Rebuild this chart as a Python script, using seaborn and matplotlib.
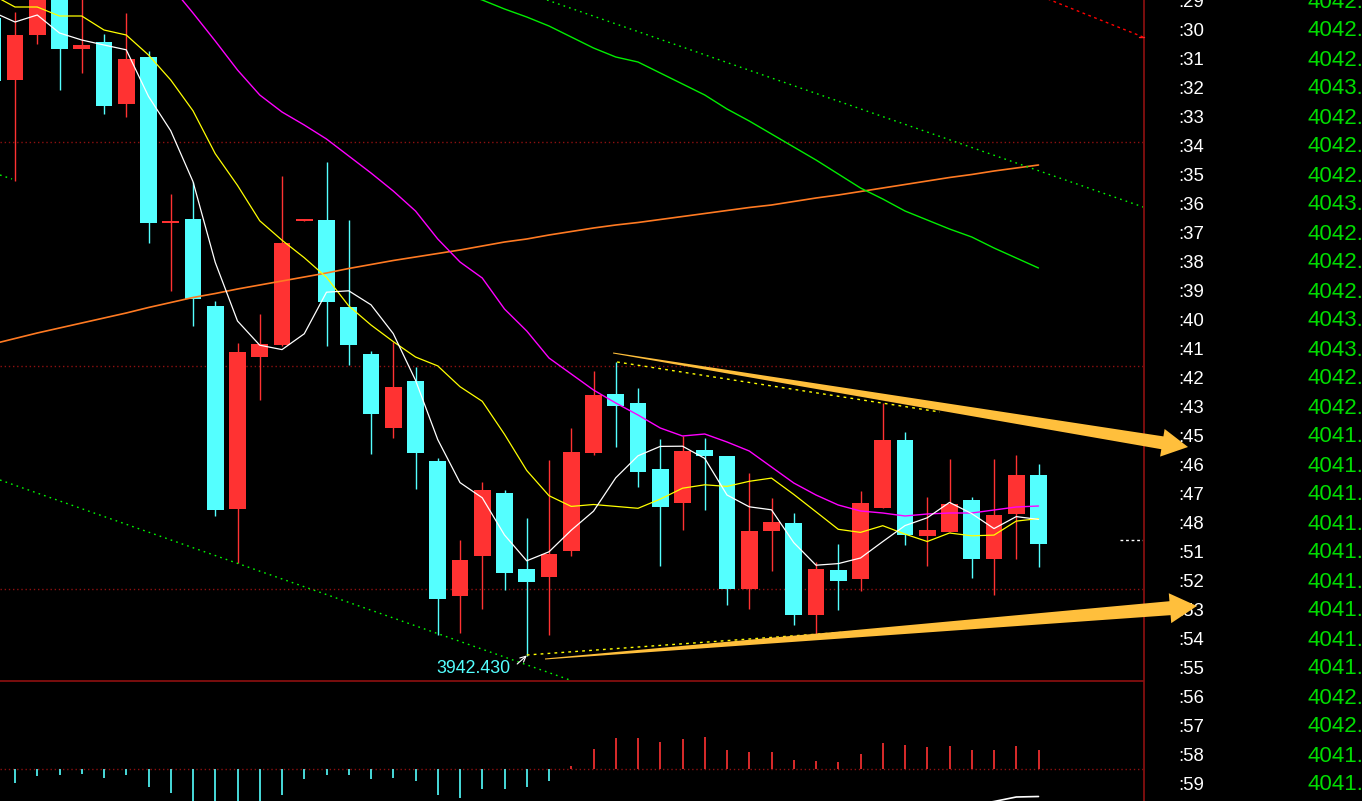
import numpy as np
import pandas as pd
import matplotlib
matplotlib.use('Agg')
import matplotlib.pyplot as plt
from matplotlib.patches import Polygon
from matplotlib.lines import Line2D
import seaborn as sns

# bougies 1 min (indice -1 = bougie coupée au bord gauche)
bar_idx = list(range(-1, 47))
opens = [4006.2, 4000.0, 4004.5, 4009.5, 4003.1, 4003.8, 3997.6, 4002.3, 3985.7, 3986.1,
         3977.4, 3957.1, 3972.3, 3973.5, 3985.9, 3986.0, 3977.3, 3972.6, 3965.2, 3969.9,
         3961.9, 3948.4, 3952.4, 3958.7, 3951.1, 3950.3, 3952.9, 3962.7, 3968.6, 3967.7,
         3961.1, 3957.7, 3963.0, 3962.4, 3949.1, 3954.9, 3955.7, 3946.5, 3951.0, 3950.1,
         3957.2, 3964.0, 3954.4, 3954.8, 3958.0, 3952.1, 3956.6, 3960.5]
highs = [4007.0, 4006.8, 4010.0, 4010.5, 4008.5, 4004.6, 4006.7, 4002.9, 3988.6, 3989.8,
         3977.9, 3973.7, 3976.6, 3990.4, 3986.1, 3991.8, 3986.0, 3972.9, 3973.8, 3971.3,
         3962.2, 3954.0, 3959.8, 3959.0, 3956.2, 3962.0, 3965.2, 3970.9, 3971.8, 3969.2,
         3964.1, 3964.4, 3964.2, 3962.4, 3960.7, 3958.2, 3956.7, 3951.8, 3953.6, 3958.9,
         3967.7, 3964.8, 3958.3, 3962.1, 3958.3, 3962.1, 3962.5, 3961.6]
lows = [3999.2, 3989.9, 4003.6, 3999.0, 4000.7, 3996.6, 3996.3, 3983.7, 3978.9, 3975.4,
        3956.4, 3951.7, 3968.0, 3973.4, 3985.9, 3973.4, 3971.5, 3962.6, 3964.2, 3959.1,
        3944.5, 3944.7, 3947.1, 3949.0, 3942.43, 3944.5, 3952.4, 3962.5, 3963.3, 3959.3,
        3951.4, 3955.0, 3957.0, 3947.5, 3947.1, 3950.9, 3945.5, 3944.5, 3947.0, 3948.9,
        3957.2, 3953.5, 3951.4, 3954.8, 3950.2, 3948.5, 3952.1, 3951.3]
closes = [3999.9, 4004.5, 4009.0, 4003.1, 4003.5, 3997.4, 4002.1, 3985.7, 3985.9, 3978.1,
          3957.0, 3972.8, 3973.6, 3983.7, 3986.0, 3977.8, 3973.5, 3966.6, 3969.3, 3962.7,
          3948.1, 3952.0, 3959.0, 3950.7, 3949.8, 3952.6, 3962.8, 3968.5, 3967.4, 3960.8,
          3957.3, 3962.9, 3962.4, 3949.1, 3954.9, 3955.8, 3946.5, 3951.1, 3949.9, 3957.7,
          3964.0, 3954.5, 3955.0, 3957.6, 3952.1, 3956.5, 3960.5, 3953.6]

# moyennes mobiles: début (historique hors écran)
ma5_head = [4006.8, 4005.8, 4006.5, 4004.7]
ma10_head = [4008.5, 4007.3, 4007.3, 4006.4, 4006.4, 4005.0, 4004.5, 4002.5, 4000.0]
ma20_idx = list(range(7, 47))
ma20 = [4009.4, 4006.7, 4003.9, 4001.0, 3998.5, 3996.8, 3995.5, 3994.1, 3992.4, 3990.7,
        3988.9, 3986.9, 3984.1, 3981.8, 3980.2, 3977.1, 3974.9, 3972.2, 3970.6, 3969.0,
        3967.7, 3966.5, 3965.2, 3964.4, 3964.6, 3963.8, 3962.9, 3961.3, 3959.7, 3958.5,
        3957.5, 3956.9, 3956.7, 3956.4, 3956.6, 3956.7, 3956.7, 3957.0, 3957.3, 3957.4]
ma60_idx = list(range(20, 47))
ma60 = [4008.7, 4008.0, 4007.1, 4006.3, 4005.4, 4004.3, 4003.2, 4002.3, 4001.8, 4000.7,
        3999.6, 3998.5, 3997.1, 3995.9, 3994.6, 3993.3, 3992.0, 3990.6, 3989.2, 3988.1,
        3986.9, 3986.0, 3985.1, 3984.3, 3983.2, 3982.2, 3981.2]
ma_long = [3973.6, 3974.15, 3974.7, 3975.2, 3975.7, 3976.2, 3976.7, 3977.25, 3977.75, 3978.25,
           3978.65, 3979.1, 3979.5, 3979.9, 3980.3, 3980.7, 3981.15, 3981.55, 3981.95, 3982.3,
           3982.65, 3983.0, 3983.4, 3983.8, 3984.1, 3984.5, 3984.85, 3985.2, 3985.5, 3985.75,
           3986.05, 3986.35, 3986.65, 3986.95, 3987.25, 3987.5, 3987.85, 3988.2, 3988.5, 3988.85,
           3989.2, 3989.55, 3989.9, 3990.25, 3990.55, 3990.9, 3991.2, 3991.5]

# histogramme MACD (bougies 0..46) et bout de la ligne DIF
macd_idx = list(range(0, 47))
macd_hist = [-1.37, -0.70, -0.60, -0.50, -0.87, -0.60, -1.77, -2.37, -3.6, -3.9,
             -3.8, -3.5, -2.6, -1.0, -0.6, -0.6, -0.97, -0.87, -1.17, -2.6,
             -2.87, -1.97, -1.97, -1.77, -1.17, 0.3, 2.0, 3.1, 3.1, 2.7,
             3.0, 3.2, 1.9, 1.7, 1.7, 0.9, 0.8, 0.7, 1.5, 2.6,
             2.4, 2.2, 2.3, 1.9, 1.9, 2.3, 1.9]
dif_idx = [43, 44, 45, 46]
dif_tail = [-3.6, -3.25, -2.8, -2.75]

# lignes tracées à la main (indice, prix)
green_upper = [(23.91, 4008.0), (50.70, 3987.3)]
green_lower = [(-0.674, 3960.0), (24.94, 3940.0)]
green_stub = [(-0.674, 3990.5), (-0.135, 3990.1)]
red_line = [(46.30, 4008.2), (50.70, 4004.3)]
yellow_upper = [(27.06, 3971.8), (41.57, 3966.8)]
yellow_lower = [(23.0, 3942.5), (44.27, 3945.9)]
arrow_upper = [(26.88, 3972.7), (52.72, 3963.3)]
arrow_lower = [(23.82, 3942.1), (53.12, 3947.4)]
grid_levels = [3993.8, 3971.4, 3949.1]
last_price = 3954.0
low_label = '3942.430'

# liste des transactions à droite
times = [':29', ':30', ':31', ':32', ':33', ':34', ':35', ':36', ':37', ':38', ':39', ':40',
         ':41', ':42', ':43', ':45', ':46', ':47', ':48', ':51', ':52', ':53', ':54', ':55',
         ':56', ':57', ':58', ':59']
quotes = ['4042.8', '4042.8', '4042.9', '4043.1', '4042.8', '4042.4', '4042.9', '4043.1',
          '4042.8', '4042.9', '4042.7', '4043.1', '4043.1', '4042.7', '4042.2', '4041.8',
          '4041.9', '4041.8', '4041.7', '4041.4', '4041.8', '4041.6', '4041.6', '4041.9',
          '4042.1', '4042.2', '4041.8', '4041.9']

RED = '#ff3232'
CYAN = '#54ffff'
DARKRED = '#8e1010'
GOLD = '#ffbf3c'

sns.set_style('dark', {'axes.facecolor': 'black', 'figure.facecolor': 'black'})
plt.rcParams['font.family'] = ['Liberation Sans', 'DejaVu Sans']

df = pd.DataFrame({'i': bar_idx, 'open': opens, 'high': highs, 'low': lows, 'close': closes})
ma5 = df['close'].rolling(5).mean().to_numpy()
ma5[:len(ma5_head)] = ma5_head
ma10 = df['close'].rolling(10).mean().to_numpy()
ma10[:len(ma10_head)] = ma10_head

W, H = 1362, 801
fig = plt.figure(figsize=(W / 100, H / 100), dpi=100)
fig.patch.set_facecolor('black')
ax = fig.add_axes([0, 120 / H, 1143 / W, 681 / H])
axm = fig.add_axes([0, 0, 1143 / W, 120 / H])
axr = fig.add_axes([1143 / W, 0, 219 / W, 1])
ax.set_zorder(3)
axm.set_zorder(2)
axr.set_zorder(1)

xlim = (-15 / 22.25, 1128 / 22.25)
ax.set_xlim(*xlim)
ax.set_ylim(4008 - 68.1, 4008)
axm.set_xlim(*xlim)
axm.set_ylim(-3.2, 8.8)
axr.set_xlim(0, 219)
axr.set_ylim(H, 0)

# grille pointillée
for lv in grid_levels:
    ax.axhline(lv, color=DARKRED, lw=1, ls=(0, (1, 2)), zorder=0)

# bougies
up = df['close'] >= df['open']
colors = np.where(up, RED, CYAN)
ax.vlines(df['i'], df['low'], df['high'], colors=colors, lw=1, zorder=2)
body_lo = np.minimum(df['open'], df['close'])
body_h = np.maximum((df['close'] - df['open']).abs(), 0.15)
ax.bar(df['i'], body_h, bottom=body_lo, width=0.764, color=colors, lw=0, zorder=3)

# moyennes mobiles
sns.lineplot(x=df['i'], y=ma_long, color='#ff7a22', lw=1.2, ax=ax, zorder=4)
sns.lineplot(x=ma60_idx, y=ma60, color='#00ee00', lw=1.0, ax=ax, zorder=4)
sns.lineplot(x=ma20_idx, y=ma20, color='#ff00ff', lw=1.0, ax=ax, zorder=4)
sns.lineplot(x=df['i'], y=ma10, color='#ffff00', lw=0.9, ax=ax, zorder=4)
sns.lineplot(x=df['i'], y=ma5, color='white', lw=0.9, ax=ax, zorder=4)

# lignes de tendance
for seg, col, ls in [(green_upper, '#00ff00', (0, (1.2, 3))),
                     (green_lower, '#00ff00', (0, (1.2, 3))),
                     (green_stub, '#00ff00', (0, (1.2, 3))),
                     (red_line, '#ff0000', (0, (2, 2.5))),
                     (yellow_upper, '#ffff00', (0, (2, 3))),
                     (yellow_lower, '#ffff00', (0, (2, 3)))]:
    xs, ys = zip(*seg)
    ax.plot(xs, ys, color=col, lw=1, ls=ls, zorder=4)

ax.plot([49.66, xlim[1]], [last_price, last_price], color='white', lw=1,
        ls=(0, (2, 2)), zorder=4)


def fat_arrow(a, tail, tip, w_tail, w_base, head_len, head_w):
    p0 = a.transData.transform(tail)
    p1 = a.transData.transform(tip)
    d = (p1 - p0) / np.linalg.norm(p1 - p0)
    n = np.array([-d[1], d[0]])
    base = p1 - d * head_len
    pts = np.array([p0 + n * w_tail, base + n * w_base, base + n * head_w, p1,
                    base - n * head_w, base - n * w_base, p0 - n * w_tail])
    pts = a.transData.inverted().transform(pts)
    a.add_patch(Polygon(pts, closed=True, facecolor=GOLD, lw=0, clip_on=False, zorder=6))


fat_arrow(ax, arrow_upper[0], arrow_upper[1], 0.5, 6.5, 26, 14)
fat_arrow(ax, arrow_lower[0], arrow_lower[1], 0.5, 7.0, 27, 15)

# étiquette du plus bas
ax.text(22.25, 3940.67, low_label, color=CYAN, fontsize=12.8, ha='right', va='baseline', zorder=5)
ax.annotate('', xy=(23.0, 3942.45), xytext=(22.57, 3941.6),
            arrowprops=dict(arrowstyle='->', color='white', lw=0.8, shrinkA=0, shrinkB=0),
            zorder=5)

# MACD
hist_colors = [RED if v > 0 else CYAN for v in macd_hist]
axm.axhline(0, color=DARKRED, lw=1, ls=(0, (1, 2)))
axm.vlines(macd_idx, 0, macd_hist, colors=hist_colors, lw=1.2)
sns.lineplot(x=dif_idx, y=dif_tail, color='white', lw=1.2, ax=axm)

# colonne de droite
for k, (t, q) in enumerate(zip(times, quotes)):
    axr.text(35, 7 + 29 * k, t, color='white', fontsize=13.4, ha='left', va='baseline')
    axr.text(164, 7.5 + 29 * k, q, color='#00dd00', fontsize=16.1, ha='left', va='baseline')

for a in (ax, axm, axr):
    a.set_facecolor('none')
    a.grid(False)
    a.set_xticks([])
    a.set_yticks([])
    a.set_xlabel('')
    a.set_ylabel('')
    for s in a.spines.values():
        s.set_visible(False)

axm.spines['top'].set_visible(True)
axm.spines['top'].set_color(DARKRED)
axm.spines['top'].set_linewidth(1.2)

xf = 1143.5 / W
fig.add_artist(Line2D([xf, xf], [0, 1], color=DARKRED, lw=1.2, transform=fig.transFigure, zorder=2))
fig.add_artist(Line2D([1139 / W, xf], [1 - 37 / H, 1 - 37 / H], color='#ff2020', lw=1,
                      transform=fig.transFigure, zorder=2))

fig.savefig('out.png', dpi=100, facecolor='black')
